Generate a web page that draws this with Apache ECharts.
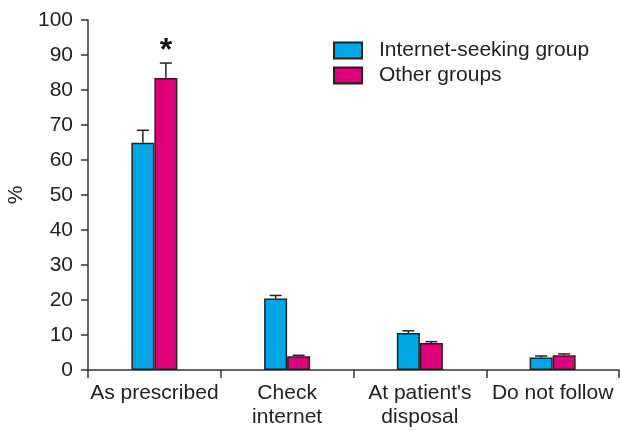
<!DOCTYPE html>
<html>
<head>
<meta charset="utf-8">
<script src="https://cdn.jsdelivr.net/npm/echarts@6/dist/echarts.min.js"></script>
<style>
  html, body { margin: 0; padding: 0; background: #fff; }
  #chart { width: 620px; height: 431px; }
</style>
</head>
<body>
<div id="chart"></div>
<script>
// Adherence categories and group percentages (mean and upper error bound)
const categories = ['As prescribed', 'Check\ninternet', "At patient's\ndisposal", 'Do not follow'];
const seriesNames = ['Internet-seeking group', 'Other groups'];
const internetSeeking = [64.9, 20.4, 10.6, 3.6];
const internetSeekingErr = [68.5, 21.3, 11.2, 4.0];
const otherGroups = [83.4, 3.9, 7.7, 4.2];
const otherGroupsErr = [87.7, 4.2, 8.1, 4.6];
const significance = ['*', '', '', ''];
const yTicks = { min: 0, max: 100, interval: 10 };

const colors = ['#00a7e6', '#e0007a'];
const barW = 23;
const font = '"Liberation Sans", Arial, sans-serif';
const fs = 21;

// Error bar (upward whisker with cap) drawn for one group, shifted to its bar
function errorSeries(name, values, errs, dx, marks) {
  return {
    type: 'custom',
    name: name + ' error',
    silent: true,
    z: 5,
    data: values.map((v, i) => [i, v, errs[i], marks ? marks[i] : '']),
    renderItem: function (params, api) {
      const base = api.coord([api.value(0), api.value(1)]);
      const top = api.coord([api.value(0), api.value(2)]);
      const x = base[0] + dx;
      const stroke = { stroke: '#222', lineWidth: 1.5 };
      const children = [
        { type: 'line', shape: { x1: x, y1: base[1], x2: x, y2: top[1] }, style: stroke },
        { type: 'line', shape: { x1: x - 6, y1: top[1], x2: x + 6, y2: top[1] }, style: stroke }
      ];
      const mark = api.value(3);
      if (mark) {
        children.push({
          type: 'text',
          style: {
            text: mark, x: x, y: top[1] + 4,
            textAlign: 'center', textVerticalAlign: 'bottom',
            font: 'bold 32px ' + font, fill: '#111'
          }
        });
      }
      return { type: 'group', children: children };
    }
  };
}

const chart = echarts.init(document.getElementById('chart'), null, { renderer: 'canvas' });
chart.setOption({
  animation: false,
  backgroundColor: '#fff',
  grid: { left: 88, right: 1, top: 20, bottom: 61, containLabel: false, outerBoundsMode: 'none' },
  legend: {
    data: seriesNames,
    orient: 'vertical',
    left: 333,
    top: 40,
    padding: 0,
    itemWidth: 28,
    itemHeight: 16,
    itemGap: 4,
    textStyle: { fontFamily: font, fontSize: fs, color: '#222', padding: [0, 0, 0, 12] },
    icon: 'rect'
  },
  xAxis: {
    type: 'category',
    data: categories,
    axisLine: { lineStyle: { color: '#333', width: 1.5 } },
    axisTick: { show: true, length: 8, lineStyle: { color: '#333', width: 1.5 } },
    axisLabel: {
      fontFamily: font, fontSize: fs, color: '#222', margin: 11,
      lineHeight: 24, interval: 0
    },
    splitLine: { show: false }
  },
  yAxis: {
    type: 'value',
    min: yTicks.min,
    max: yTicks.max,
    interval: yTicks.interval,
    name: '%',
    nameLocation: 'middle',
    nameGap: 59,
    nameRotate: 90,
    nameTextStyle: { fontFamily: font, fontSize: fs, color: '#222' },
    axisLine: { show: true, lineStyle: { color: '#333', width: 1.5 } },
    axisTick: { show: true, length: 7, lineStyle: { color: '#333', width: 1.5 } },
    axisLabel: { fontFamily: font, fontSize: fs, color: '#222', margin: 15 },
    splitLine: { show: false }
  },
  series: [
    {
      name: seriesNames[0],
      type: 'bar',
      data: internetSeeking,
      barWidth: barW,
      barGap: '0%',
      itemStyle: { color: colors[0], borderColor: '#222', borderWidth: 1.5 }
    },
    {
      name: seriesNames[1],
      type: 'bar',
      data: otherGroups,
      barWidth: barW,
      barGap: '0%',
      itemStyle: { color: colors[1], borderColor: '#222', borderWidth: 1.5 }
    },
    errorSeries(seriesNames[0], internetSeeking, internetSeekingErr, -barW / 2),
    errorSeries(seriesNames[1], otherGroups, otherGroupsErr, barW / 2, significance)
  ]
});
</script>
</body>
</html>
